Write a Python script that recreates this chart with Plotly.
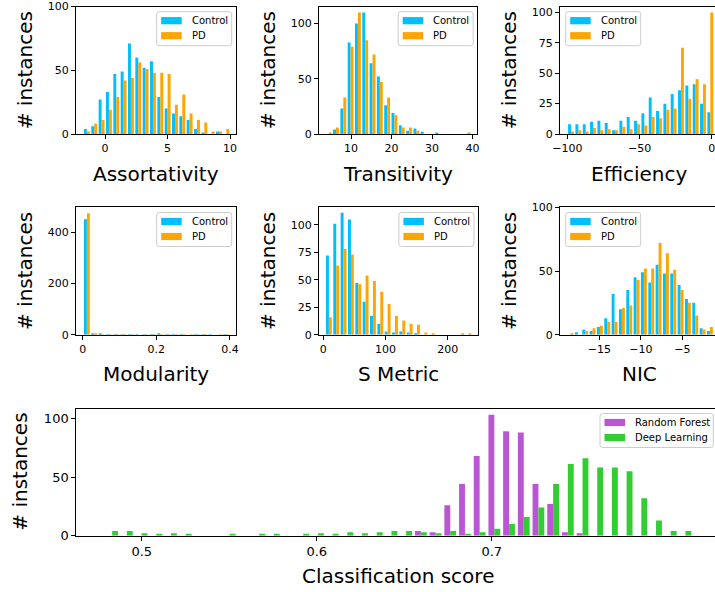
import numpy as np
import plotly.graph_objects as go

W, H = 715, 592
FONT = "DejaVu Sans"
BLUE, ORANGE = "#00BFFF", "#FFA500"
PURPLE, GREEN = "#BA55D3", "#32CD32"

# ---------------- data (histogram counts) ----------------
assort_edges = (-1.74, 10.0)
assort_control = [4, 6, 27, 33, 47, 49, 71, 60, 52, 57, 29, 20, 16, 14, 11, 4, 1, 0, 2, 0]
assort_pd = [2, 8, 11, 19, 29, 42, 44, 56, 51, 48, 48, 47, 23, 31, 16, 11, 9, 2, 2, 4]

trans_edges = (3.59, 39.66)
trans_control = [0, 4, 23, 83, 100, 110, 64, 52, 26, 19, 8, 3, 5, 2, 0, 1, 0, 0, 0, 0]
trans_pd = [1, 6, 33, 79, 110, 85, 72, 47, 33, 17, 6, 6, 3, 0, 0, 0, 0, 0, 0, 1]

eff_edges = (-100.0, 1.6)
eff_control = [8, 8, 8, 10, 11, 9, 3, 11, 14, 11, 17, 30, 19, 25, 33, 36, 40, 41, 25, 18]
eff_pd = [2, 3, 2, 5, 3, 4, 3, 6, 4, 8, 7, 14, 13, 20, 21, 71, 29, 45, 41, 100]

mod_edges = (0.0016, 0.40)
mod_control = [451, 5, 4, 1, 1, 1, 1, 1, 1, 1, 3, 1, 1, 1, 0, 1, 1, 1, 0, 1]
mod_pd = [475, 5, 1, 1, 1, 1, 1, 0, 1, 1, 1, 1, 1, 1, 1, 1, 1, 0, 1, 1]

smet_edges = (3.1, 239.0)
smet_control = [72, 101, 111, 105, 47, 30, 17, 10, 3, 2, 3, 2, 1, 0, 0, 0, 0, 0, 0, 0]
smet_pd = [16, 63, 78, 73, 46, 54, 49, 39, 28, 17, 13, 10, 9, 2, 1, 0, 0, 0, 1, 1]

nic_edges = (-18.9, -1.23)
nic_control = [0, 2, 4, 3, 6, 13, 32, 20, 35, 45, 49, 41, 55, 48, 48, 39, 28, 25, 5, 3]
nic_pd = [1, 0, 3, 5, 7, 10, 10, 21, 23, 43, 52, 52, 72, 64, 51, 35, 25, 15, 4, 6]

score_edges = (0.4789, 0.8149)
rf_counts = [0, 0, 0, 0, 0, 0, 0, 0, 0, 0, 0, 0, 0, 0, 0, 0, 0, 0, 0, 0,
             0, 4, 3, 26, 44, 68, 103, 89, 88, 44, 27, 3, 2, 0, 0, 0, 0, 0, 0, 0]
dl_counts = [4, 4, 2, 1, 2, 1, 0, 0, 1, 0, 1, 1, 0, 1, 2, 1, 3, 2, 3, 4,
             4, 3, 2, 4, 1, 3, 6, 10, 16, 24, 44, 61, 66, 58, 58, 55, 32, 13, 4, 4]

group_labels = ["Control", "PD"]
model_labels = ["Random Forest", "Deep Learning"]


def centers(edges, n):
    e = np.linspace(edges[0], edges[1], n + 1)
    return (e[:-1] + e[1:]) / 2


# ---------------- geometry helpers (pixels -> paper) ----------------
def px_x(a, b):
    return [a / W, min(b / W, 1.0)]


def px_y(top, bottom):
    return [1 - bottom / H, 1 - top / H]


def X(p):
    return p / W


def Y(p):
    return 1 - p / H


shapes, annotations = [], []


def rounded_box(x0, y0, x1, y1, r=2.5):
    rx, ry = r / W, r / H
    a0, a1, b0, b1 = X(x0), X(x1), Y(y1), Y(y0)
    path = (f"M{a0 + rx},{b1} L{a1 - rx},{b1} Q{a1},{b1} {a1},{b1 - ry} "
            f"L{a1},{b0 + ry} Q{a1},{b0} {a1 - rx},{b0} L{a0 + rx},{b0} "
            f"Q{a0},{b0} {a0},{b0 + ry} L{a0},{b1 - ry} Q{a0},{b1} {a0 + rx},{b1} Z")
    return dict(type="path", path=path, xref="paper", yref="paper",
                fillcolor="rgba(255,255,255,0.8)", line=dict(color="#cccccc", width=1),
                layer="above")


def add_legend(bx, by, bw, labels, colors):
    shapes.append(rounded_box(bx, by, bx + bw, by + 34))
    for j, (lab, col) in enumerate(zip(labels, colors)):
        yc = by + 9 + 15 * j
        shapes.append(dict(type="rect", xref="paper", yref="paper",
                           x0=X(bx + 4.5), x1=X(bx + 25), y0=Y(yc + 3.6), y1=Y(yc - 3.6),
                           fillcolor=col, line=dict(width=0), layer="above"))
        annotations.append(dict(text=lab, x=X(bx + 33), y=Y(yc), xref="paper", yref="paper",
                                xanchor="left", yanchor="middle", showarrow=False,
                                font=dict(family=FONT, size=10, color="black")))


panels = [
    ("Assortativity", assort_edges, assort_control, assort_pd, (76, 235.5), (6.5, 134),
     [-2.32, 10.44], [0, 100], [0, 5, 10], [0, 50, 100], "right"),
    ("Transitivity", trans_edges, trans_control, trans_pd, (319, 477), (6.5, 134),
     [2.1, 41.1], [0, 115.5], [10, 20, 30, 40], [0, 50, 100], "right"),
    ("Efficiency", eff_edges, eff_control, eff_pd, (560, 718), (6.5, 134),
     [-105.1, 2.3], [0, 105], [-100, -50, 0], [0, 25, 50, 75, 100], "left"),
    ("Modularity", mod_edges, mod_control, mod_pd, (76, 235.5), (207.3, 334.7),
     [-0.018, 0.415], [0, 498], [0.0, 0.2, 0.4], [0, 200, 400], "right"),
    ("S Metric", smet_edges, smet_control, smet_pd, (319, 477.7), (207.3, 334.7),
     [-6.9, 248], [0, 116], [0, 100, 200], [0, 25, 50, 75, 100], "right"),
    ("NIC", nic_edges, nic_control, nic_pd, (560, 718), (207.3, 334.7),
     [-19.73, -1.06], [0, 100], [-15, -10, -5], [0, 50, 100], "left"),
]

fig = go.Figure()
layout = dict(
    width=W, height=H, margin=dict(l=0, r=0, t=0, b=0, autoexpand=False),
    paper_bgcolor="white", plot_bgcolor="white", template="none",
    barmode="group", bargap=0.2, bargroupgap=0.0, showlegend=False,
    font=dict(family=FONT, color="black"), hovermode=False,
)

axis_common = dict(showline=True, linecolor="black", linewidth=1, ticks="outside",
                   ticklen=4, tickwidth=1, tickcolor="black", showgrid=False,
                   zeroline=False, automargin=False, ticklabeloverflow="allow",
                   tickfont=dict(family=FONT, size=11, color="black"))

for k, (name, edges, ctl, pdv, xd, yd, xr, yr, xt, yt, side) in enumerate(panels):
    idx = k + 1
    sfx = "" if idx == 1 else str(idx)
    xc = centers(edges, len(ctl))
    fig.add_trace(go.Bar(x=xc, y=ctl, name=group_labels[0], marker_color=BLUE,
                         marker_line_width=0, xaxis=f"x{sfx}", yaxis=f"y{sfx}"))
    fig.add_trace(go.Bar(x=xc, y=pdv, name=group_labels[1], marker_color=ORANGE,
                         marker_line_width=0, xaxis=f"x{sfx}", yaxis=f"y{sfx}"))
    cropped = xd[1] > W
    layout[f"xaxis{sfx}"] = dict(axis_common, domain=px_x(*xd), range=xr, tickvals=xt,
                                 anchor=f"y{sfx}", mirror=True)
    layout[f"yaxis{sfx}"] = dict(axis_common, domain=px_y(*yd), range=yr, tickvals=yt,
                                 anchor=f"x{sfx}", mirror=(not cropped))
    bw = 75
    bx = xd[1] - 3.8 - bw if side == "right" else xd[0] + 5.7
    add_legend(bx, yd[0] + 5.2, bw, group_labels, [BLUE, ORANGE])
    annotations.append(dict(
        text=name, x=X((xd[0] + xd[1]) / 2), y=Y(yd[1] + 39.5),
        xref="paper", yref="paper", xanchor="center", yanchor="middle",
        showarrow=False, font=dict(family=FONT, size=20, color="black")))
    annotations.append(dict(
        text="# instances", x=X(xd[0] - 51), y=Y((yd[0] + yd[1]) / 2),
        xref="paper", yref="paper", xanchor="center", yanchor="middle",
        textangle=-90, showarrow=False, font=dict(family=FONT, size=20, color="black")))

# bottom panel
xc = centers(score_edges, len(rf_counts))
fig.add_trace(go.Bar(x=xc, y=rf_counts, name=model_labels[0], marker_color=PURPLE,
                     marker_line_width=0, xaxis="x7", yaxis="y7"))
fig.add_trace(go.Bar(x=xc, y=dl_counts, name=model_labels[1], marker_color=GREEN,
                     marker_line_width=0, xaxis="x7", yaxis="y7"))
bx_, by_ = (76.3, 720.6), (408.7, 535.7)
bottom_ax = dict(axis_common, tickfont=dict(family=FONT, size=13, color="black"))
layout["xaxis7"] = dict(bottom_ax, domain=px_x(*bx_), range=[0.4626, 0.8276],
                        tickvals=[0.5, 0.6, 0.7], anchor="y7", mirror=True)
layout["yaxis7"] = dict(bottom_ax, domain=px_y(*by_), range=[0, 108.2],
                        tickvals=[0, 50, 100], anchor="x7", mirror=False)
add_legend(600, 413.5, 113.3, model_labels, [PURPLE, GREEN])
annotations.append(dict(
    text="Classification score", x=X((bx_[0] + bx_[1]) / 2), y=Y(by_[1] + 40),
    xref="paper", yref="paper", xanchor="center", yanchor="middle",
    showarrow=False, font=dict(family=FONT, size=20, color="black")))
annotations.append(dict(
    text="# instances", x=X(20.5), y=Y((by_[0] + by_[1]) / 2),
    xref="paper", yref="paper", xanchor="center", yanchor="middle",
    textangle=-90, showarrow=False, font=dict(family=FONT, size=20, color="black")))

layout["shapes"] = shapes
layout["annotations"] = annotations
fig.update_layout(**layout)
fig.write_html("out.html", config={"displayModeBar": False},
               post_script="document.body.style.margin='0px';")
